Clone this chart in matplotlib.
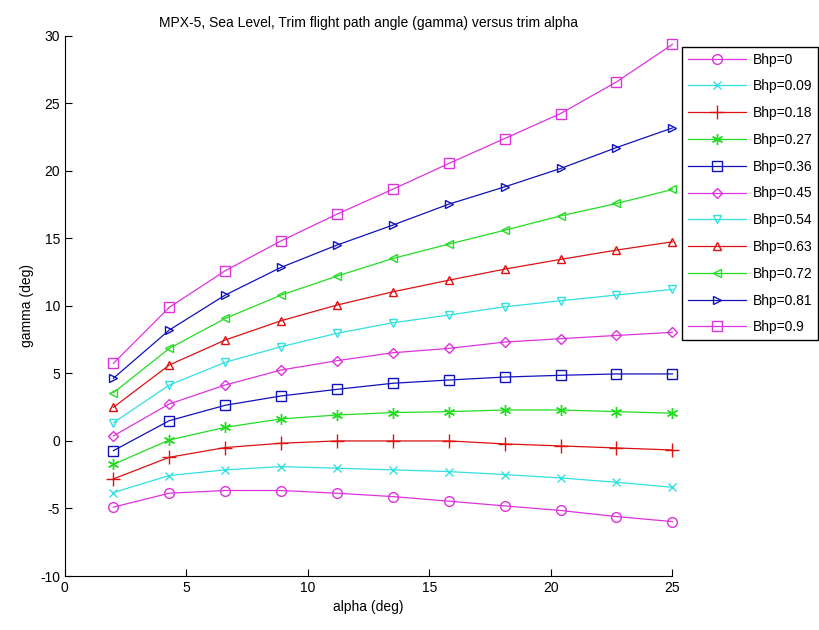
import matplotlib
matplotlib.use("Agg")
import matplotlib.pyplot as plt

plt.rcParams['font.family'] = ['Liberation Sans', 'DejaVu Sans']
plt.rcParams['axes.unicode_minus'] = False

# --- data ---
alpha = [2, 4.3, 6.6, 8.9, 11.2, 13.5, 15.8, 18.1, 20.4, 22.7, 25]
bhp_labels = ["Bhp=0", "Bhp=0.09", "Bhp=0.18", "Bhp=0.27", "Bhp=0.36", "Bhp=0.45",
              "Bhp=0.54", "Bhp=0.63", "Bhp=0.72", "Bhp=0.81", "Bhp=0.9"]
gamma_0 = [-4.9, -3.87, -3.67, -3.67, -3.87, -4.12, -4.46, -4.81, -5.15, -5.6, -5.97]
gamma_009 = [-3.82, -2.56, -2.14, -1.9, -2.02, -2.14, -2.27, -2.49, -2.74, -3.06, -3.43]
gamma_018 = [-2.81, -1.21, -0.49, -0.17, 0.0, 0.0, 0.0, -0.22, -0.37, -0.52, -0.67]
gamma_027 = [-1.73, 0.07, 1.01, 1.63, 1.92, 2.1, 2.17, 2.29, 2.29, 2.17, 2.05]
gamma_036 = [-0.72, 1.5, 2.64, 3.33, 3.82, 4.27, 4.51, 4.73, 4.86, 4.96, 4.96]
gamma_045 = [0.37, 2.74, 4.14, 5.25, 5.94, 6.53, 6.85, 7.32, 7.57, 7.81, 8.04]
gamma_054 = [1.35, 4.14, 5.82, 6.98, 7.97, 8.75, 9.32, 9.93, 10.38, 10.8, 11.22]
gamma_063 = [2.49, 5.62, 7.47, 8.9, 10.06, 11.04, 11.9, 12.72, 13.44, 14.13, 14.74]
gamma_072 = [3.57, 6.85, 9.07, 10.8, 12.2, 13.51, 14.57, 15.6, 16.66, 17.58, 18.62]
gamma_081 = [4.64, 8.21, 10.8, 12.85, 14.5, 15.98, 17.53, 18.81, 20.17, 21.72, 23.17]
gamma_09 = [5.74, 9.89, 12.6, 14.81, 16.79, 18.64, 20.54, 22.39, 24.24, 26.58, 29.36]

series = [gamma_0, gamma_009, gamma_018, gamma_027, gamma_036, gamma_045,
          gamma_054, gamma_063, gamma_072, gamma_081, gamma_09]
colors = ['#dd33dd', '#33e0e0', '#dd1111', '#22dd22', '#1111bb',
          '#dd33dd', '#33e0e0', '#dd1111', '#22dd22', '#1111bb', '#dd33dd']
# matlab style asterisk for the 0.27 series
markers = ['o', 'x', '+', (6, 2, 0), 's', 'D', 'v', '^', '<', '>', 's']
msizes = [7, 6, 10, 8, 7, 5, 6, 6, 6, 6, 7]

fig = plt.figure(figsize=(8.2, 6.3), dpi=100)
ax = fig.add_axes([0.079, 0.0857, 0.741, 0.8576])

for ys, lab, c, m, ms in zip(series, bhp_labels, colors, markers, msizes):
    ax.plot(alpha, ys, color=c, marker=m, markersize=ms, markerfacecolor='none',
            markeredgecolor=c, markeredgewidth=1, linewidth=0.9, label=lab,
            clip_on=False)

ax.set_xlim(0, 25)
ax.set_ylim(-10, 30)
ax.set_xticks([0, 5, 10, 15, 20, 25])
ax.set_yticks(range(-10, 31, 5))
ax.spines['top'].set_visible(False)
ax.spines['right'].set_visible(False)
ax.tick_params(direction='in', length=5, labelsize=10, top=False, right=False)
ax.set_xlabel("alpha (deg)", fontsize=10)
ax.set_ylabel("gamma (deg)", fontsize=10)
ax.set_title("MPX-5, Sea Level, Trim flight path angle (gamma) versus trim alpha", fontsize=10)

leg = ax.legend(loc='upper left', bbox_to_anchor=(682 / 820, 1 - 47 / 630),
                bbox_transform=fig.transFigure, fontsize=10, fancybox=False,
                edgecolor='black', framealpha=1, handlelength=4.2,
                labelspacing=0.92, borderpad=0.4, handletextpad=0.5, borderaxespad=0)
leg.get_frame().set_linewidth(1)
leg.set_zorder(5)

fig.savefig("out.png", dpi=100)
